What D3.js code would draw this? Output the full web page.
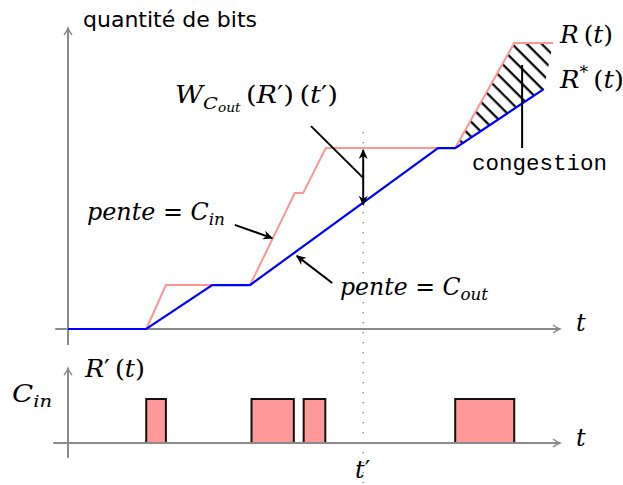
<!DOCTYPE html>
<html>
<head>
<meta charset="utf-8">
<script src="https://cdn.jsdelivr.net/npm/d3@7"></script>
<style>
  body { margin: 0; background: #fff; }
  svg { display: block; }
</style>
</head>
<body>
<svg id="chart" width="623" height="485"></svg>
<script>
// R(t): bits arrived, R*(t): bits served (time in % of the axis, bits in % of the axis)
var rPoints = [[15.9, 0], [19.9, 14.6], [37.0, 14.6], [46.1, 45.2], [47.8, 45.2],
               [52.4, 60.1], [78.7, 60.1], [90.7, 95], [98.6, 95]];
var rStarPoints = [[0, 0], [15.9, 0], [29.3, 14.6], [37.0, 14.6], [75.2, 60.1],
                   [78.7, 60.1], [96.7, 79.7]];
// R'(t) = C_in during these intervals, 0 otherwise
var pulses = [[15.9, 19.9], [37.3, 45.9], [47.9, 52.3], [78.7, 90.7]];
var tPrime = 60;
var congestionStart = 78.7;

var pink = "#ff9494", blue = "#0000ff", grey = "#8a8a8a";
var serif = "DejaVu Serif, serif";

var svg = d3.select("#chart");

var x = d3.scaleLinear().domain([0, 100]).range([68, 560]);
var yTop = d3.scaleLinear().domain([0, 100]).range([329, 28]);
var yBot = d3.scaleLinear().domain([0, 1]).range([443, 399]);

var defs = svg.append("defs");

defs.append("marker")
    .attr("id", "axisHead")
    .attr("markerUnits", "userSpaceOnUse")
    .attr("viewBox", "-10 -6 12 12")
    .attr("markerWidth", 12).attr("markerHeight", 12)
    .attr("refX", 0).attr("refY", 0)
    .attr("orient", "auto")
    .append("path")
    .attr("d", "M-7,-4 Q-3,-1 0,0 Q-3,1 -7,4")
    .attr("fill", "none")
    .attr("stroke", grey)
    .attr("stroke-width", 1.4);

defs.append("marker")
    .attr("id", "blackHead")
    .attr("markerUnits", "userSpaceOnUse")
    .attr("viewBox", "-12 -6 14 12")
    .attr("markerWidth", 14).attr("markerHeight", 12)
    .attr("refX", 0).attr("refY", 0)
    .attr("orient", "auto-start-reverse")
    .append("path")
    .attr("d", "M1,0 L-9,-4.5 L-6,0 L-9,4.5 Z")
    .attr("fill", "#000");

defs.append("pattern")
    .attr("id", "hatch")
    .attr("patternUnits", "userSpaceOnUse")
    .attr("width", 10.5).attr("height", 10.5)
    .attr("patternTransform", "rotate(45)")
    .append("line")
    .attr("x1", 0).attr("y1", 5).attr("x2", 10.5).attr("y2", 5)
    .attr("stroke", "#000")
    .attr("stroke-width", 2.2);

var line = d3.line().x(function (d) { return x(d[0]); }).y(function (d) { return yTop(d[1]); });

// ---- top plot
// hatched congestion area between R and R*
var hatchPts = rPoints.filter(function (d) { return d[0] >= congestionStart; })
    .concat(rStarPoints.filter(function (d) { return d[0] >= congestionStart; }).reverse());
svg.append("path")
    .attr("d", line(hatchPts) + "Z")
    .attr("fill", "url(#hatch)");

// dotted t' line
svg.append("line")
    .attr("x1", x(tPrime)).attr("x2", x(tPrime))
    .attr("y1", 132).attr("y2", 483)
    .attr("stroke", "#777")
    .attr("stroke-width", 1.3)
    .attr("stroke-dasharray", "1.3 8.7");

// axes
svg.append("line")
    .attr("x1", x(0)).attr("y1", yTop(-5.3)).attr("x2", x(0)).attr("y2", yTop(100))
    .attr("stroke", grey).attr("stroke-width", 2).attr("marker-end", "url(#axisHead)");
svg.append("line")
    .attr("x1", x(-2.6)).attr("y1", yTop(0)).attr("x2", x(100)).attr("y2", yTop(0))
    .attr("stroke", grey).attr("stroke-width", 2).attr("marker-end", "url(#axisHead)");

svg.append("path")
    .attr("d", line(rPoints))
    .attr("fill", "none")
    .attr("stroke", pink)
    .attr("stroke-width", 2);

svg.append("path")
    .attr("d", line(rStarPoints))
    .attr("fill", "none")
    .attr("stroke", blue)
    .attr("stroke-width", 2.2);

// annotations
function pointer(p0, p1, head, both) {
    var l = svg.append("line")
        .attr("x1", x(p0[0])).attr("y1", yTop(p0[1]))
        .attr("x2", x(p1[0])).attr("y2", yTop(p1[1]))
        .attr("stroke", "#000").attr("stroke-width", 2);
    if (head) l.attr("marker-end", "url(#blackHead)");
    if (both) l.attr("marker-start", "url(#blackHead)");
}
pointer([33.9, 34.6], [41.5, 30.2], true);        // pente = C_in
pointer([53.7, 15.3], [46.5, 24.3], true);        // pente = C_out
pointer([tPrime, 59.5], [tPrime, 41.3], true, true); // W(t') double arrow
pointer([49.4, 67.4], [tPrime, 50.2], false);     // label leader
pointer([92.3, 87.7], [92.3, 60.1], false);       // congestion leader

// parts: [text, italic, size, dy]
function math(gx, gy, parts, size, width) {
    var t = svg.append("text")
        .attr("x", gx).attr("y", gy)
        .attr("font-family", serif)
        .attr("font-size", size)
        .attr("fill", "#000");
    parts.forEach(function (p) {
        t.append("tspan")
            .text(p[0])
            .attr("font-style", p[1] ? "italic" : "normal")
            .attr("font-size", p[2] || size)
            .attr("dy", p[3] || 0);
    });
    if (width) t.attr("textLength", width).attr("lengthAdjust", "spacingAndGlyphs");
    return t;
}

svg.append("text")
    .attr("x", 83).attr("y", 27)
    .attr("font-family", "DejaVu Sans, sans-serif")
    .attr("font-size", 20.5)
    .attr("textLength", 174)
    .attr("lengthAdjust", "spacingAndGlyphs")
    .text("quantité de bits");

var ms = 24, sub = 17;
math(560, 43, [["R", 1], ["\u2009(", 0], ["t", 1], [")", 0]], ms, 53);
math(560, 88, [["R", 1], ["*", 0, 16, -10], ["\u2009(", 0, ms, 10], ["t", 1], [")", 0]], ms, 64);

svg.append("text")
    .attr("x", 472).attr("y", 170)
    .attr("font-family", "Liberation Mono, monospace")
    .attr("font-size", 22.5)
    .attr("textLength", 135)
    .attr("lengthAdjust", "spacingAndGlyphs")
    .text("congestion");

math(175, 103, [["W", 1], ["C", 1, sub, 6], ["out", 1, 12, 3], ["\u2009(", 0, ms, -9], ["R", 1], ["\u2032", 0],
                [")\u2009(", 0], ["t", 1], ["\u2032", 0], [")", 0]], ms, 163);

math(87, 220, [["pente", 1], [" = ", 0], ["C", 1], ["in", 1, sub, 5]], ms, 138);
math(340, 295, [["pente", 1], [" = ", 0], ["C", 1], ["out", 1, sub, 5]], ms, 148);

math(576, 331, [["t", 1]], ms);

// ---- bottom plot
svg.selectAll("rect.pulse")
    .data(pulses)
    .enter().append("rect")
    .attr("class", "pulse")
    .attr("x", function (d) { return x(d[0]); })
    .attr("y", yBot(1))
    .attr("width", function (d) { return x(d[1]) - x(d[0]); })
    .attr("height", yBot(0) - yBot(1))
    .attr("fill", "#ff9999")
    .attr("stroke", "#111")
    .attr("stroke-width", 2);

svg.append("line")
    .attr("x1", x(0)).attr("y1", yBot(-0.34)).attr("x2", x(0)).attr("y2", yBot(1.7))
    .attr("stroke", grey).attr("stroke-width", 2).attr("marker-end", "url(#axisHead)");
svg.append("line")
    .attr("x1", x(-3)).attr("y1", yBot(0)).attr("x2", x(100)).attr("y2", yBot(0))
    .attr("stroke", grey).attr("stroke-width", 2).attr("marker-end", "url(#axisHead)");

math(12, 402, [["C", 1], ["in", 1, sub, 5]], ms, 40);
math(85, 377, [["R", 1], ["\u2032", 0], ["\u2009(", 0], ["t", 1], [")", 0]], ms, 60);
math(576, 446, [["t", 1]], ms);
math(355, 478, [["t", 1], ["\u2032", 0]], ms);
</script>
</body>
</html>
